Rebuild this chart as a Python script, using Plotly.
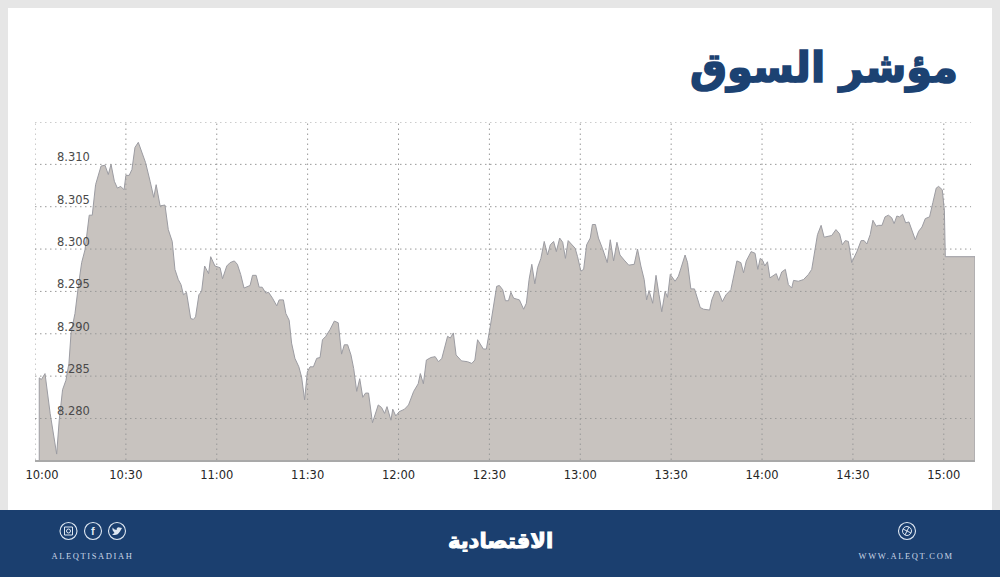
import plotly.graph_objects as go

# ---- data ----
minutes = [1.4,2.1,3.3,5.0,7.15,8,9.1,10.2,11.2,11.9,13.2,14.3,15.4,16.5,17.9,18.9,20,21.8,23.1,24.2,25.1,26.2,27.2,28.3,29.4,30,31.1,32,33,34.1,35.2,36.5,38,39.2,40,41.3,42.9,44,45.3,46.2,47.3,48.2,49,50,51.4,52.3,53,54.1,55,56,57.3,58,59.4,61.1,61.9,63.3,64.4,65.8,66.8,67.9,69,71,71.8,73,74,75,76.2,77.1,78.4,79.8,80.6,82,82.8,83.9,84.7,85.8,87.1,88,89,89.9,90.8,91.9,93,94.1,94.9,96,97.4,98.8,100.1,101.2,102.1,103.2,104.3,105.2,106.2,107.2,108.2,109.1,110.1,111.4,113.3,114.4,115.4,116.2,117.5,118.1,119.1,120.2,122,123.3,125,126.5,127.2,128.2,129.2,130.7,132.1,133.2,134.3,136.2,137.1,138.1,139,140.8,142.8,144.2,145.2,146.1,148,149,150.3,151.6,152.4,153.3,154.4,155.3,156.3,157.1,158,159.9,161.3,162.2,163.1,164,165,165.9,167,168.1,169.2,170.1,171.2,172.1,173.2,174.2,175.1,176,178.3,179.1,180.2,181.1,182.1,183.3,184,185,186,187.3,188.9,189.9,191,192.1,193.1,194.5,196,197.8,198.9,200,201.1,201.9,202.7,203.9,205,206,206.9,208,208.8,209.7,211.3,212.4,214.6,215.4,216.5,217.7,219.6,220.7,222.7,223.4,224.5,225.6,226.9,228.1,229.7,231.7,233,233.9,234.8,236.4,237.7,238.6,239.4,240.3,240.9,241.8,242.6,244.7,245.5,246.5,247.7,248.7,249.8,250.4,252,253.7,255.3,256.4,257.2,258.3,259.5,260.5,263,264.4,265.6,266.5,267.5,268.5,269.6,271.3,272.7,273.7,274.6,275.7,276.6,277.7,278.5,279.6,280.6,281.7,282.8,283.6,284.5,285.4,286.4,287.4,288.5,289.5,290.6,291.7,292.8,293.9,295.3,296.4,297.5,298.3,299.5,300.2,300.5,310.3]
index_values = [8.2848,8.2846,8.2853,8.2806,8.2758,8.2798,8.2834,8.2845,8.2865,8.2901,8.2924,8.2956,8.2984,8.2999,8.304,8.304,8.3076,8.3098,8.3099,8.3088,8.31,8.308,8.3072,8.3074,8.307,8.3087,8.3087,8.3094,8.312,8.3126,8.3116,8.3102,8.308,8.3061,8.3076,8.3051,8.3052,8.3023,8.3009,8.2976,8.2964,8.2958,8.2946,8.2949,8.2918,8.2917,8.292,8.2946,8.295,8.298,8.2971,8.2991,8.298,8.2978,8.2965,8.298,8.2984,8.2986,8.2982,8.297,8.2954,8.2957,8.2969,8.2969,8.2955,8.2955,8.2948,8.2949,8.2942,8.2933,8.294,8.294,8.2924,8.2916,8.2889,8.2871,8.2861,8.2849,8.2822,8.2855,8.2861,8.2861,8.2871,8.2872,8.2893,8.2897,8.2905,8.2915,8.2913,8.2876,8.2887,8.2887,8.2875,8.2859,8.2832,8.2847,8.2825,8.283,8.283,8.2795,8.2816,8.2813,8.2806,8.2814,8.2798,8.2811,8.2803,8.2808,8.2811,8.2816,8.2832,8.2841,8.2853,8.2841,8.2869,8.2872,8.2873,8.2867,8.2871,8.2897,8.2895,8.2901,8.2875,8.2868,8.2867,8.2865,8.2869,8.2893,8.2882,8.2882,8.2909,8.294,8.2956,8.2957,8.2952,8.2939,8.2939,8.2949,8.2942,8.294,8.2929,8.2936,8.2964,8.2982,8.2959,8.2978,8.2989,8.3009,8.2993,8.3005,8.3009,8.2997,8.3013,8.3008,8.2989,8.301,8.3001,8.2991,8.2974,8.2976,8.3005,8.3013,8.3029,8.3029,8.3013,8.3001,8.2984,8.3011,8.2986,8.3008,8.2993,8.2987,8.2981,8.2982,8.3,8.298,8.2964,8.294,8.2951,8.2936,8.2969,8.2946,8.2926,8.295,8.2943,8.297,8.2962,8.2968,8.2993,8.2984,8.2953,8.2953,8.2931,8.2929,8.2928,8.294,8.295,8.295,8.2938,8.2946,8.2952,8.2986,8.2984,8.2972,8.2986,8.2997,8.2995,8.2976,8.2989,8.2986,8.298,8.2985,8.2966,8.2971,8.2963,8.2973,8.2976,8.2958,8.2954,8.2963,8.2962,8.2964,8.297,8.2976,8.2995,8.3017,8.3028,8.3014,8.3016,8.3023,8.3018,8.3005,8.301,8.3009,8.2984,8.2997,8.301,8.301,8.3006,8.3017,8.3034,8.3027,8.3028,8.3028,8.3038,8.304,8.3037,8.303,8.3039,8.3038,8.3041,8.3031,8.3032,8.3021,8.3011,8.3021,8.3026,8.3036,8.3038,8.3055,8.3072,8.3074,8.307,8.3045,8.2991,8.2991]
y_labels = ["8.310","8.305","8.300","8.295","8.290","8.285","8.280"]
y_grid = [8.315,8.310,8.305,8.300,8.295,8.290,8.285,8.280]
x_labels = ["10:00","10:30","11:00","11:30","12:00","12:30","13:00","13:30","14:00","14:30","15:00"]
x_grid = [0,30,60,90,120,150,180,210,240,270,300]
title_text = "مؤشر السوق"
brand_text = "الاقتصادية"
handle_text = "ALEQTISADIAH"
site_text = "WWW.ALEQT.COM"

BASE = 8.2751
W, H = 1000, 577
NAVY = "#1b3f6f"
ICON = "#dfe8f2"

def px(x): return x / W
def py(y): return 1 - y / H

def rect(x0, y0, x1, y1, color):
    return dict(type="rect", xref="paper", yref="paper", x0=px(x0), x1=px(x1), y0=py(y0), y1=py(y1),
                fillcolor=color, line_width=0, layer="below")

def circle(cx, cy, r, color=ICON, width=1.1, fill=None):
    return dict(type="circle", xref="paper", yref="paper", x0=px(cx-r), x1=px(cx+r), y0=py(cy-r), y1=py(cy+r),
                line=dict(color=color, width=width), fillcolor=fill or "rgba(0,0,0,0)", layer="above")

fig = go.Figure()
fig.add_trace(go.Scatter(
    x=[minutes[0]] + minutes + [minutes[-1]],
    y=[BASE] + index_values + [BASE],
    mode="lines", fill="tozeroy", fillcolor="#c8c3bf",
    line=dict(color="#9c9ca2", width=1), hoverinfo="skip", showlegend=False))

shapes = [rect(0, 0, W, H, "#e6e6e6"), rect(8, 8, 992, 511, "#ffffff"), rect(0, 510, W, H, NAVY)]
GRID = "#999999"
for v in y_grid:
    shapes.append(dict(type="line", xref="x", yref="y", x0=0, x1=309, y0=v, y1=v, layer="above",
                       line=dict(color=GRID, width=1, dash="1.5px,3.5px")))
for m in x_grid:
    shapes.append(dict(type="line", xref="x", yref="y", x0=m, x1=m, y0=BASE, y1=8.315, layer="above",
                       line=dict(color=GRID, width=1, dash="1.5px,3.5px")))

# footer icons
shapes += [circle(68.5, 531, 8.5), circle(93, 531, 8.5), circle(117, 531, 8.5), circle(907, 531, 8.5)]
shapes += [
    dict(type="rect", xref="paper", yref="paper", x0=px(64.5), x1=px(72.5), y0=py(535), y1=py(527),
         line=dict(color=ICON, width=1), layer="above"),
    circle(68.5, 531, 2, width=1),
    circle(907, 531, 4.5, width=1),
    dict(type="line", xref="paper", yref="paper", x0=px(903), x1=px(911), y0=py(529), y1=py(533),
         line=dict(color=ICON, width=1), layer="above"),
    dict(type="line", xref="paper", yref="paper", x0=px(905), x1=px(909), y0=py(535), y1=py(527),
         line=dict(color=ICON, width=1), layer="above"),
    dict(type="path", xref="paper", yref="paper", layer="above", fillcolor=ICON, line_width=0,
         path=f"M {px(112)} {py(534.5)} Q {px(117)} {py(536.5)} {px(120)} {py(531.5)} L {px(122)} {py(528)} "
              f"L {px(119.5)} {py(527.5)} Q {px(116.5)} {py(526.5)} {px(116.5)} {py(530)} Q {px(114)} {py(529.5)} {px(112.5)} {py(527.5)} "
              f"Q {px(112)} {py(530)} {px(113.5)} {py(531.5)} L {px(114.5)} {py(533)} Z"),
]

annotations = []
for label, v in zip(y_labels, y_grid[1:]):
    annotations.append(dict(x=7, y=v, xref="x", yref="y", text=label, showarrow=False, xanchor="left",
                            yanchor="bottom", yshift=-1, borderpad=0,
                            font=dict(family="DejaVu Sans", size=11.5, color="#4a4a4a")))
def paper_text(x, y, text, size, color, family, anchor="center", bold=False):
    annotations.append(dict(x=px(x), y=py(y), xref="paper", yref="paper", text=f"<b>{text}</b>" if bold else text,
                            showarrow=False, xanchor=anchor, yanchor="middle",
                            font=dict(family=family, size=size, color=color)))
paper_text(960, 68, title_text, 41.5, "#1c4272", "DejaVu Sans", "right", True)
paper_text(500, 541, brand_text, 21, "#ffffff", "DejaVu Sans", "center", True)
paper_text(92.5, 556, handle_text, 8.5, "#c9d6e6", "Liberation Serif")
paper_text(906.5, 556, site_text, 8.5, "#c9d6e6", "Liberation Serif")
paper_text(93, 531, "f", 11, ICON, "Liberation Sans", "center", True)

# 10:00 label sits to the right of its gridline in the reference
label_pos = [2.3] + x_grid[1:]

fig.update_layout(
    width=W, height=H, margin=dict(l=0, r=0, t=0, b=0, autoexpand=False),
    paper_bgcolor="#ffffff", plot_bgcolor="rgba(0,0,0,0)", showlegend=False,
    shapes=shapes, annotations=annotations,
    xaxis=dict(domain=[0.035, 0.975], range=[0, 310.3], tickmode="array", tickvals=label_pos, ticktext=x_labels,
               showgrid=False, zeroline=False, showline=True, linecolor="#a9a9a9", linewidth=2, ticks="", automargin=False,
               tickfont=dict(family="DejaVu Sans", size=11.5, color="#262626"), ticklabelstandoff=3, layer="above traces"),
    yaxis=dict(domain=[1-460/577, 1-122/577], range=[BASE, 8.315], showgrid=False, zeroline=False, automargin=False,
               showticklabels=False, ticks=""),
)
post = """document.body.style.margin='0';
document.querySelectorAll('.annotation-text').forEach(function(t){
  if(/ALEQ/.test(t.textContent)){t.style.letterSpacing='1.6px';}
  if(t.textContent.indexOf('مؤشر')>=0){t.style.stroke='#1c4272';t.style.strokeWidth='1.6px';}
  if(t.textContent.indexOf('الاقتصادية')>=0){t.style.stroke='#ffffff';t.style.strokeWidth='1px';}
});"""
fig.write_html("out.html", post_script=post, config={"displayModeBar": False})
